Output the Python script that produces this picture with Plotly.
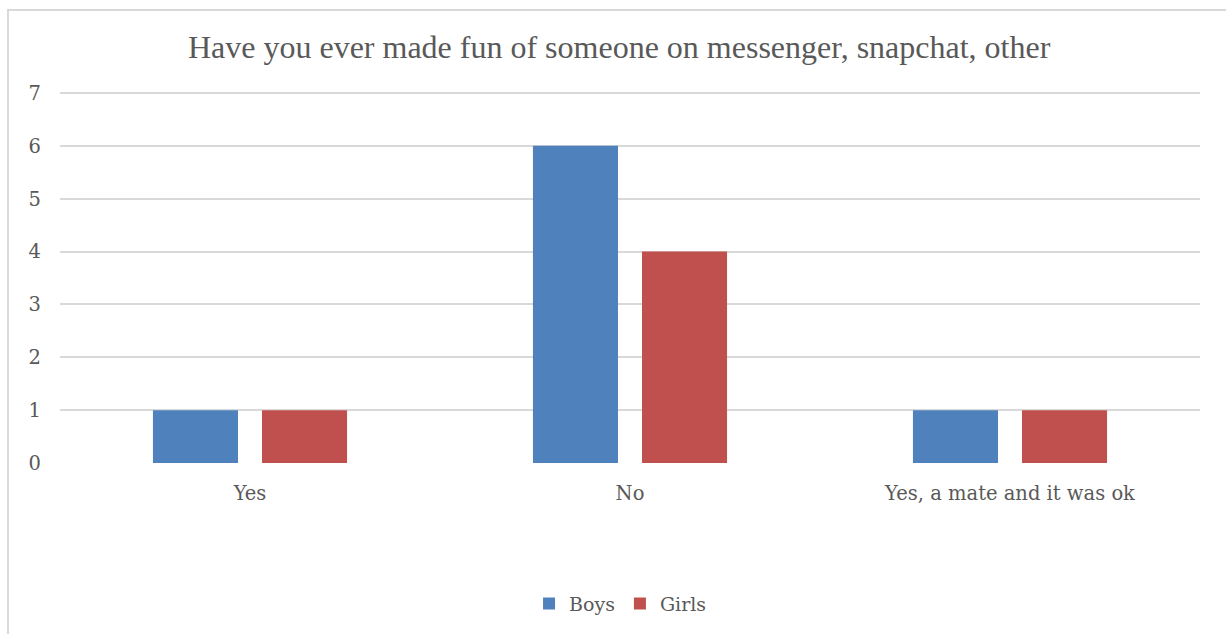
import plotly.graph_objects as go

# Survey answers by group
categories = ["Yes", "No", "Yes, a mate and it was ok"]
boys = [1, 6, 1]
girls = [1, 4, 1]
y_ticks = [0, 1, 2, 3, 4, 5, 6, 7]

TEXT = "#595959"
GRID = "#d9d9d9"
TITLE_FONT = "Liberation Serif"
BODY_FONT = "DejaVu Serif"

fig = go.Figure()
fig.add_trace(go.Bar(name="Boys", x=categories, y=boys, marker=dict(color="#4F81BD", line=dict(width=0))))
fig.add_trace(go.Bar(name="Girls", x=categories, y=girls, marker=dict(color="#C0504D", line=dict(width=0))))

fig.update_layout(
    width=1226,
    height=634,
    margin=dict(l=60, r=26, t=91, b=171),
    paper_bgcolor="white",
    plot_bgcolor="white",
    barmode="group",
    bargap=0.426,
    bargroupgap=0.22,
    font=dict(family=BODY_FONT, color=TEXT, size=19.5),
    title=dict(
        text="Have you ever made fun of someone on messenger, snapchat, other",
        x=0.505, xanchor="center", y=1 - 47 / 634, yanchor="middle",
        font=dict(family=TITLE_FONT, size=32, color=TEXT),
    ),
    showlegend=True,
    legend=dict(
        orientation="h", x=0.4917, xanchor="center", y=-0.378, yanchor="middle",
        font=dict(family=BODY_FONT, size=19, color=TEXT),
        itemwidth=30, traceorder="normal",
    ),
    xaxis=dict(
        showgrid=False, showline=False, zeroline=False, ticks="", ticklabelstandoff=16,
        tickfont=dict(family=BODY_FONT, size=19.5, color=TEXT),
    ),
    yaxis=dict(
        range=[0, 7.038], tickvals=y_ticks, showgrid=True, gridcolor=GRID, gridwidth=2,
        zeroline=False, showline=False, ticks="", ticklabelstandoff=18,
        tickfont=dict(family=BODY_FONT, size=19.5, color=TEXT),
    ),
    shapes=[
        dict(type="rect", xref="paper", yref="paper",
             x0=-52 / 1140, x1=1.03, y0=-0.5, y1=1 + 81 / 372,
             line=dict(color=GRID, width=2), fillcolor="rgba(0,0,0,0)", layer="below"),
    ],
)

fig.write_html("out.html")
